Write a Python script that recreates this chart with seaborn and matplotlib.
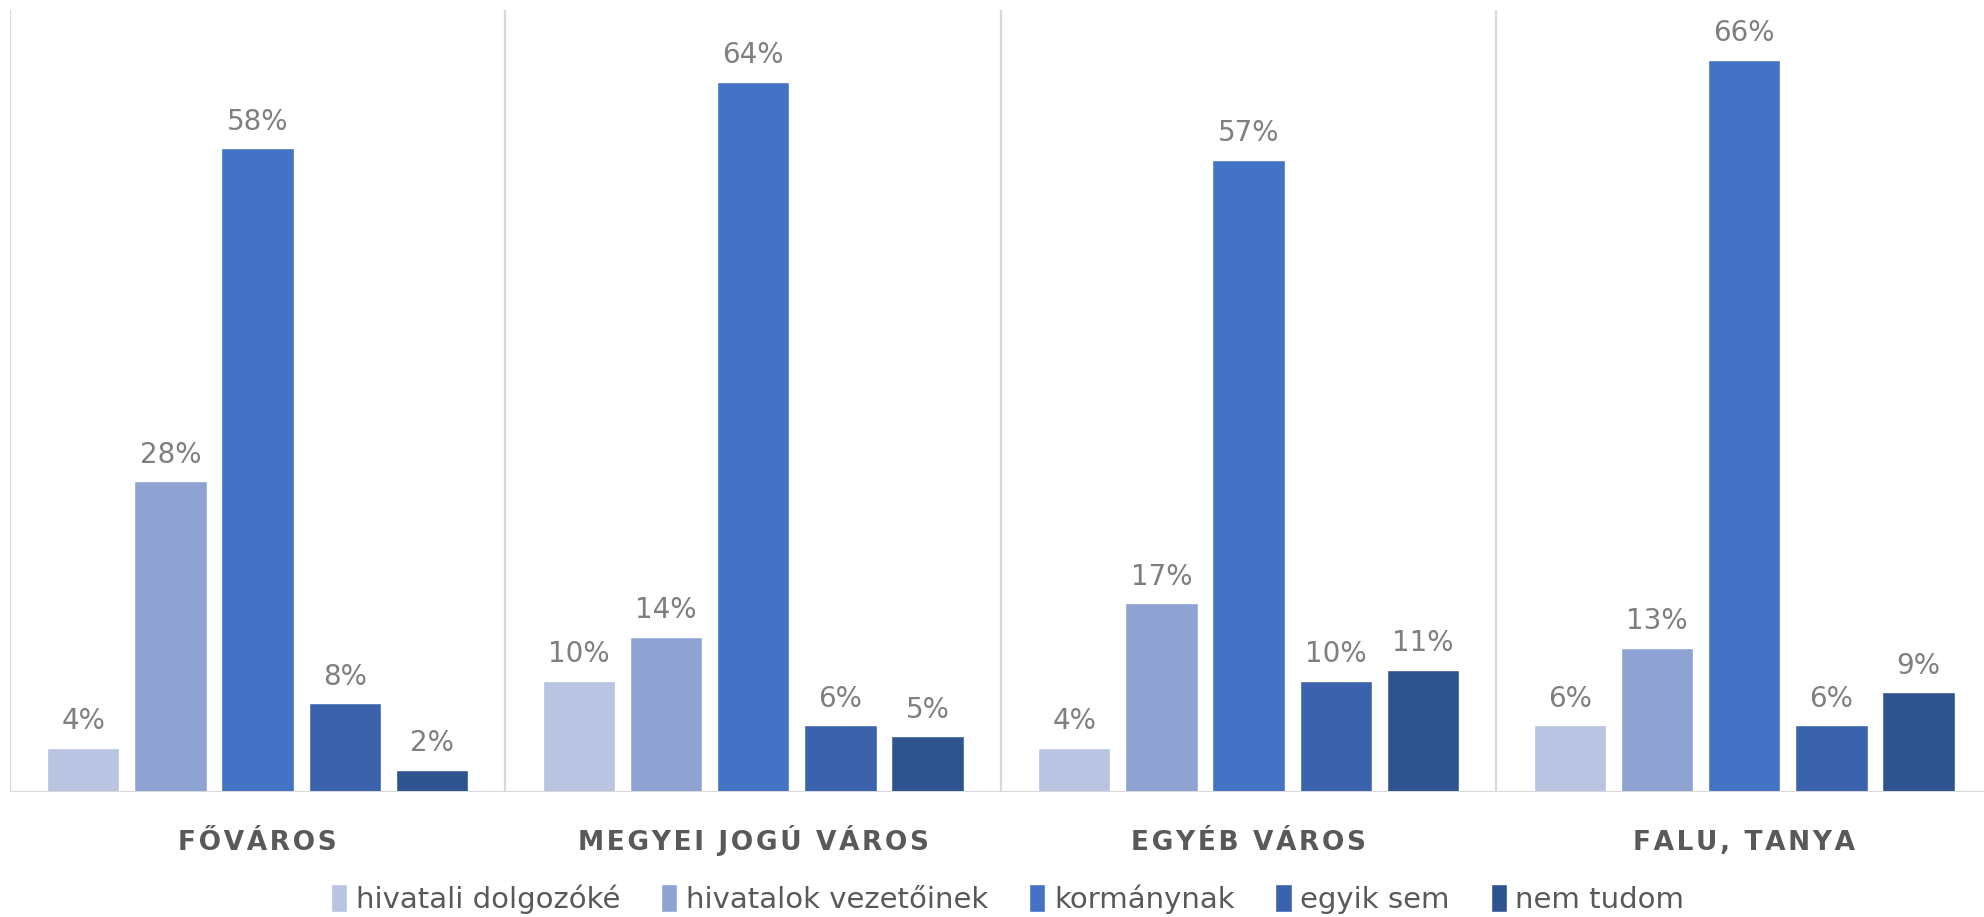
import pandas as pd
import matplotlib.pyplot as plt
import seaborn as sns

# Kategóriák és válaszok
telepules = ['FŐVÁROS', 'MEGYEI JOGÚ VÁROS', 'EGYÉB VÁROS', 'FALU, TANYA']
valaszok = ['hivatali dolgozóké', 'hivatalok vezetőinek', 'kormánynak', 'egyik sem', 'nem tudom']

hivatali_dolgozoke = [0.04, 0.10, 0.04, 0.06]
hivatalok_vezetoinek = [0.28, 0.14, 0.17, 0.13]
kormanynak = [0.58, 0.64, 0.57, 0.66]
egyik_sem = [0.08, 0.06, 0.10, 0.06]
nem_tudom = [0.02, 0.05, 0.11, 0.09]

SZINEK = ['#B9C3E2', '#8FA3D3', '#4472C4', '#3B63AC', '#30548F']

sorok = []
for valasz, ertekek in zip(valaszok, [hivatali_dolgozoke, hivatalok_vezetoinek,
                                      kormanynak, egyik_sem, nem_tudom]):
    for kat, v in zip(telepules, ertekek):
        sorok.append({'Település': kat, 'Válasz': valasz, 'Arány': v})
df = pd.DataFrame(sorok)

sns.set_style('white')
plt.rcParams['font.family'] = ['DejaVu Sans']

fig = plt.figure(figsize=(19.84, 9.17), dpi=100)
ax = fig.add_axes([0.005, 0.1364, 0.999, 0.853])

sns.barplot(data=df, x='Település', y='Arány', hue='Válasz', order=telepules,
            hue_order=valaszok, palette=SZINEK, width=0.88, gap=0.17,
            saturation=1, ax=ax, legend=True)

for cont in ax.containers:
    ax.bar_label(cont, labels=[f'{v:.0%}' for v in cont.datavalues],
                 padding=9, color='#7F7F7F', fontsize=20)

ax.set_ylim(0, 0.705)
ax.set_xlim(-0.5, 3.5)
for x in [-0.5, 0.5, 1.5, 2.5]:
    ax.axvline(x, color='#D9D9D9', lw=1.6, zorder=0)
ax.axhline(0, color='#D9D9D9', lw=2.2, zorder=3)

ax.set_yticks([])
ax.set_xlabel('')
ax.set_ylabel('')
# betűritkítás hajszálszóközzel
ax.set_xticks(range(len(telepules)))
ax.set_xticklabels(['\u200a'.join(t) for t in telepules])
ax.tick_params(axis='x', length=0, pad=42)
for lbl in ax.get_xticklabels():
    lbl.set_fontweight('bold')
    lbl.set_fontsize(19)
    lbl.set_color('#595959')
    lbl.set_verticalalignment('baseline')
sns.despine(ax=ax, left=True, bottom=True)

handles, labels = ax.get_legend_handles_labels()
ax.get_legend().remove()
fig.legend(handles, labels, loc='lower center', bbox_to_anchor=(0.508, -0.025),
           ncol=5, frameon=False, fontsize=21, labelcolor='#595959',
           handlelength=0.55, handleheight=1.1, handletextpad=0.3,
           columnspacing=1.4)

plt.savefig('out.png', dpi=100)
